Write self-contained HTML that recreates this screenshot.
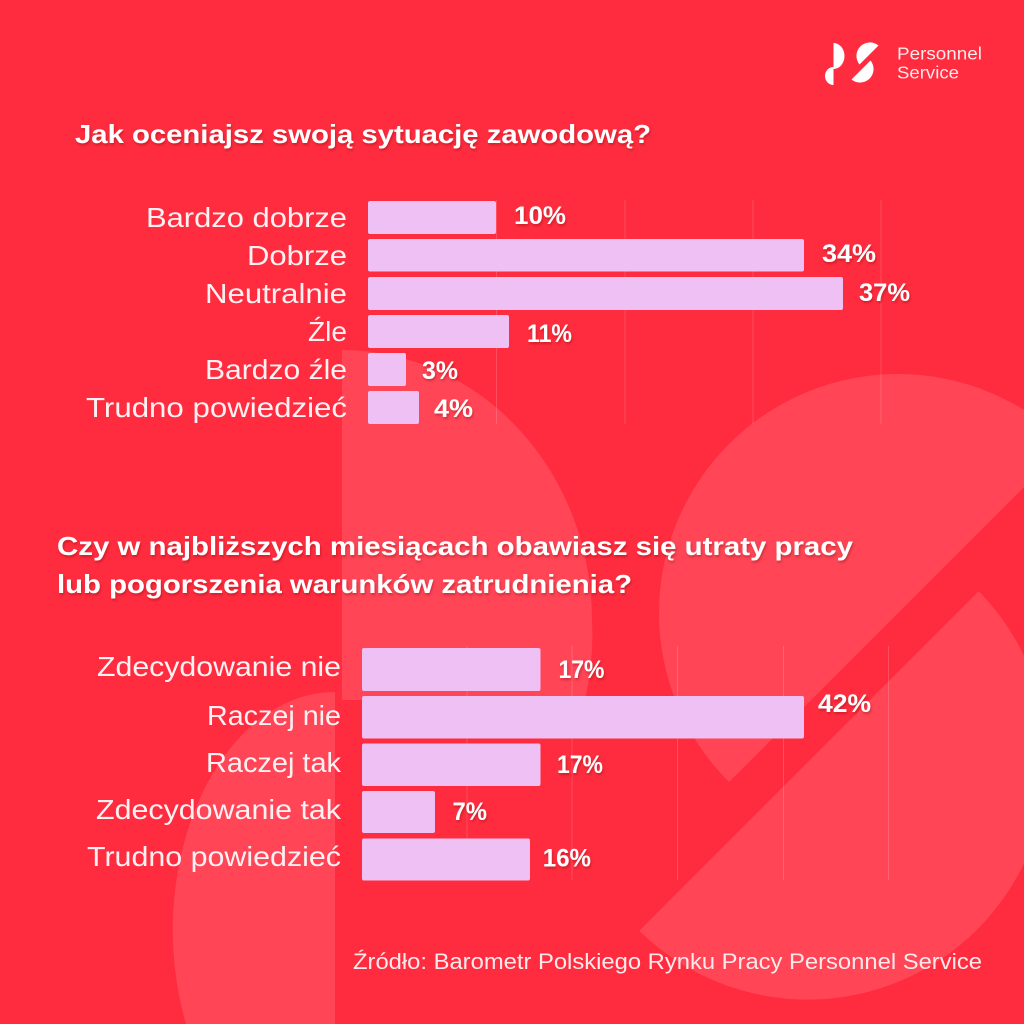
<!DOCTYPE html>
<html>
<head>
<meta charset="utf-8">
<style>
  html, body { margin:0; padding:0; background:#FE2C3E; width:1024px; height:1024px; overflow:hidden; }
  svg { display:block; }
  .t { font-family:"Liberation Sans", sans-serif; }
</style>
</head>
<body>
<svg width="1024" height="1024" viewBox="0 0 1024 1024" xmlns="http://www.w3.org/2000/svg">
  <defs>
    <filter id="sh" x="-10%" y="-30%" width="130%" height="180%">
      <feDropShadow dx="1" dy="2" stdDeviation="1.4" flood-color="#7a0010" flood-opacity="0.35"/>
    </filter>
    <clipPath id="frame"><rect x="0" y="0" width="1024" height="1024"/></clipPath>
  </defs>
  <rect x="0" y="0" width="1024" height="1024" fill="#FE2C3E"/>

  <!-- background big logo shapes -->
  <g fill="#FF4556" clip-path="url(#frame)">
    <path d="M342,350 A250,270 0 0 1 592,620 A250,270 0 0 1 585,700 L342,700 Z"/>
    <path d="M335,692 A162,238 0 0 0 186,1024 L335,1024 Z"/>
    <path d="M729,782 A239,239 0 0 1 1067,444 Z"/>
    <path d="M978.7,591.3 A240,240 0 0 1 639.3,930.7 Z"/>
  </g>

  <!-- small logo -->
  <g fill="#FFFFFF">
    <path d="M833.5,43 A11,13 0 0 1 833.5,69 Z"/>
    <path d="M833.5,67 A8.5,9 0 0 0 833.5,85 Z"/>
    <path d="M859.5,64.5 A13.5,13.5 0 0 1 878.5,45.5 Z"/>
    <path d="M870.5,60.5 A13.5,13.5 0 0 1 851.5,79.5 Z"/>
  </g>
  <text class="t" x="897" y="59.5" font-size="17.5" fill="#FFE9EB" textLength="85" lengthAdjust="spacingAndGlyphs">Personnel</text>
  <text class="t" x="897" y="78.5" font-size="17.5" fill="#FFE9EB" textLength="62" lengthAdjust="spacingAndGlyphs">Service</text>

  <!-- Title 1 -->
  <text class="t" x="75" y="143" font-size="26" font-weight="bold" fill="#FFFFFF" filter="url(#sh)" textLength="576" lengthAdjust="spacingAndGlyphs">Jak oceniajsz swoją sytuację zawodową?</text>

  <!-- top chart gridlines -->
  <g stroke="#FFFFFF" stroke-opacity="0.16" stroke-width="1">
    <line x1="496.5" y1="200" x2="496.5" y2="424"/>
    <line x1="625" y1="200" x2="625" y2="424"/>
    <line x1="753" y1="200" x2="753" y2="424"/>
    <line x1="881" y1="200" x2="881" y2="424"/>
  </g>

  <!-- top chart bars -->
  <g fill="#EFC0F3">
    <rect x="368" y="201" width="128" height="33" rx="2"/>
    <rect x="368" y="239" width="436" height="32.5" rx="2"/>
    <rect x="368" y="277" width="475" height="33" rx="2"/>
    <rect x="368" y="315" width="141" height="33" rx="2"/>
    <rect x="368" y="353" width="38" height="33" rx="2"/>
    <rect x="368" y="391" width="51" height="33" rx="2"/>
  </g>

  <!-- top chart labels -->
  <g class="t" font-size="28" fill="#FFF1F3" text-anchor="end">
    <text x="347" y="227" textLength="201" lengthAdjust="spacingAndGlyphs">Bardzo dobrze</text>
    <text x="347" y="265" textLength="100" lengthAdjust="spacingAndGlyphs">Dobrze</text>
    <text x="347" y="303" textLength="142" lengthAdjust="spacingAndGlyphs">Neutralnie</text>
    <text x="347" y="341" textLength="39" lengthAdjust="spacingAndGlyphs">Źle</text>
    <text x="347" y="379" textLength="142" lengthAdjust="spacingAndGlyphs">Bardzo źle</text>
    <text x="347" y="417" textLength="261" lengthAdjust="spacingAndGlyphs">Trudno powiedzieć</text>
  </g>

  <!-- top chart values -->
  <g class="t" font-size="25" font-weight="bold" fill="#FFFFFF" filter="url(#sh)">
    <text x="514" y="224" textLength="52" lengthAdjust="spacingAndGlyphs">10%</text>
    <text x="822" y="262" textLength="54" lengthAdjust="spacingAndGlyphs">34%</text>
    <text x="859" y="301" textLength="51" lengthAdjust="spacingAndGlyphs">37%</text>
    <text x="527" y="342" textLength="45" lengthAdjust="spacingAndGlyphs">11%</text>
    <text x="422" y="379" textLength="36" lengthAdjust="spacingAndGlyphs">3%</text>
    <text x="434" y="417" textLength="39" lengthAdjust="spacingAndGlyphs">4%</text>
  </g>

  <!-- Title 2 -->
  <text class="t" x="57" y="555" font-size="26" font-weight="bold" fill="#FFFFFF" filter="url(#sh)" textLength="796" lengthAdjust="spacingAndGlyphs">Czy w najbliższych miesiącach obawiasz się utraty pracy</text>
  <text class="t" x="57" y="593" font-size="26" font-weight="bold" fill="#FFFFFF" filter="url(#sh)" textLength="575" lengthAdjust="spacingAndGlyphs">lub pogorszenia warunków zatrudnienia?</text>

  <!-- bottom chart gridlines -->
  <g stroke="#FFFFFF" stroke-opacity="0.16" stroke-width="1">
    <line x1="467" y1="646" x2="467" y2="880"/>
    <line x1="572" y1="646" x2="572" y2="880"/>
    <line x1="677.5" y1="646" x2="677.5" y2="880"/>
    <line x1="783.5" y1="646" x2="783.5" y2="880"/>
    <line x1="888.5" y1="646" x2="888.5" y2="880"/>
  </g>

  <!-- bottom chart bars -->
  <g fill="#EFC0F3">
    <rect x="362" y="648" width="178.5" height="43" rx="2"/>
    <rect x="362" y="696" width="442" height="42.5" rx="2"/>
    <rect x="362" y="743.5" width="178.5" height="42.5" rx="2"/>
    <rect x="362" y="791" width="73" height="42" rx="2"/>
    <rect x="362" y="838.5" width="168" height="42" rx="2"/>
  </g>

  <!-- bottom chart labels -->
  <g class="t" font-size="28" fill="#FFF1F3" text-anchor="end">
    <text x="341" y="676" textLength="244" lengthAdjust="spacingAndGlyphs">Zdecydowanie nie</text>
    <text x="341" y="725" textLength="134" lengthAdjust="spacingAndGlyphs">Raczej nie</text>
    <text x="341" y="772" textLength="135" lengthAdjust="spacingAndGlyphs">Raczej tak</text>
    <text x="341" y="819" textLength="245" lengthAdjust="spacingAndGlyphs">Zdecydowanie tak</text>
    <text x="341" y="866" textLength="254" lengthAdjust="spacingAndGlyphs">Trudno powiedzieć</text>
  </g>

  <!-- bottom chart values -->
  <g class="t" font-size="25" font-weight="bold" fill="#FFFFFF" filter="url(#sh)">
    <text x="558.5" y="678" textLength="46" lengthAdjust="spacingAndGlyphs">17%</text>
    <text x="818" y="712" textLength="53" lengthAdjust="spacingAndGlyphs">42%</text>
    <text x="557" y="773" textLength="46" lengthAdjust="spacingAndGlyphs">17%</text>
    <text x="452.5" y="820" textLength="34.5" lengthAdjust="spacingAndGlyphs">7%</text>
    <text x="542.7" y="866.5" textLength="48.3" lengthAdjust="spacingAndGlyphs">16%</text>
  </g>

  <!-- source -->
  <text class="t" x="982" y="969" font-size="22" fill="#FFE9EB" text-anchor="end" textLength="629" lengthAdjust="spacingAndGlyphs">Źródło: Barometr Polskiego Rynku Pracy Personnel Service</text>
</svg>
</body>
</html>
